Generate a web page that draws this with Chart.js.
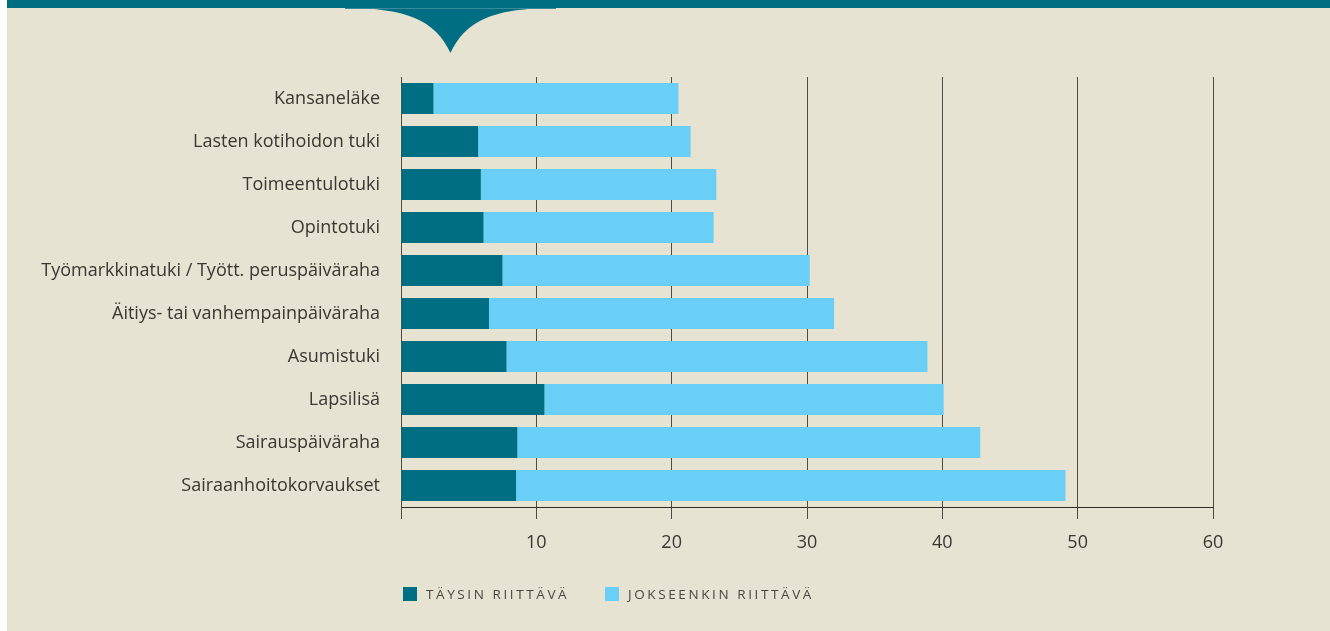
<!DOCTYPE html>
<html>
<head>
<meta charset="utf-8">
<script src="https://cdn.jsdelivr.net/npm/chart.js@4"></script>
<style>
  html, body { margin: 0; padding: 0; background: #fff; }
  #wrap {
    position: absolute; left: 7px; top: 0; width: 1323px; height: 631px;
    background: #e6e3d2; overflow: hidden;
  }
  #band { position: absolute; left: 0; top: 0; width: 1323px; height: 60px; }
  #holder { position: absolute; left: -7px; top: 0; width: 1330px; height: 631px; }
  #legend {
    position: absolute; top: 586px; left: 396px;
    font-family: "Open Sans", sans-serif; font-size: 13.5px; letter-spacing: 2.6px;
    color: #4a4642; white-space: nowrap;
  }
  #legend span.item { position: absolute; top: 0; }
  #legend i { position: absolute; top: 1px; width: 14px; height: 14px; }
  #legend b { position: absolute; top: -1px; font-weight: 400; }
</style>
</head>
<body>
<div id="wrap">
  <svg id="band" viewBox="0 0 1323 60">
    <rect x="0" y="0" width="1323" height="8" fill="#006e82"/>
    <path d="M 338 8 C 400 8, 428 20, 443.5 53 C 459 20, 487 8, 549 8 Z" fill="#006e82"/>
    <line x1="338" y1="8.5" x2="549" y2="8.5" stroke="#3c8a99" stroke-width="1"/>
  </svg>
  <div id="holder"><canvas id="chart"></canvas></div>
  <div id="legend"></div>
</div>
<script>
// Categories (top to bottom)
const categories = [
  'Kansaneläke',
  'Lasten kotihoidon tuki',
  'Toimeentulotuki',
  'Opintotuki',
  'Työmarkkinatuki / Tyött. peruspäiväraha',
  'Äitiys- tai vanhempainpäiväraha',
  'Asumistuki',
  'Lapsilisä',
  'Sairauspäiväraha',
  'Sairaanhoitokorvaukset'
];

// Täysin riittävä (%)
const taysin = [2.4, 5.7, 5.9, 6.1, 7.5, 6.5, 7.8, 10.6, 8.6, 8.5];
// Jokseenkin riittävä (%)
const jokseenkin = [18.1, 15.7, 17.4, 17.0, 22.7, 25.5, 31.1, 29.5, 34.2, 40.6];

const xTicks = [0, 10, 20, 30, 40, 50, 60];
const seriesNames = ['TÄYSIN RIITTÄVÄ', 'JOKSEENKIN RIITTÄVÄ'];
const seriesColors = ['#006e82', '#6acff6'];

const textColor = '#3a3632';
const gridColor = '#4f4a44';

const ctx = document.getElementById('chart').getContext('2d');
const chart = new Chart(ctx, {
  type: 'bar',
  data: {
    labels: categories,
    datasets: [
      {
        label: seriesNames[0],
        data: taysin,
        backgroundColor: seriesColors[0],
        barPercentage: 0.72,
        categoryPercentage: 1,
      },
      {
        label: seriesNames[1],
        data: jokseenkin,
        backgroundColor: seriesColors[1],
        barPercentage: 0.72,
        categoryPercentage: 1,
      },
    ],
  },
  options: {
    indexAxis: 'y',
    responsive: true,
    maintainAspectRatio: false,
    animation: false,
    layout: {
      padding: { top: 77, right: 117, left: 0, bottom: 0 },
    },
    plugins: {
      legend: { display: false },
      tooltip: { enabled: false },
    },
    scales: {
      x: {
        stacked: true,
        min: 0,
        max: 60,
        afterBuildTicks: (scale) => {
          scale.ticks = xTicks.map((v) => ({ value: v }));
        },
        afterFit: (scale) => {
          scale.height = 124;
        },
        grid: {
          color: gridColor,
          lineWidth: 1,
          tickLength: 12,
          drawTicks: true,
        },
        border: { display: true, color: '#2e2a26', width: 1 },
        ticks: {
          color: textColor,
          padding: 13,
          font: { family: 'Open Sans', size: 18 },
          callback: (v) => (v === 0 ? '' : v),
        },
      },
      y: {
        stacked: true,
        afterFit: (scale) => {
          scale.width = 401;
        },
        grid: { display: false, drawTicks: false },
        border: { display: true, color: gridColor, width: 1 },
        ticks: {
          color: textColor,
          padding: 21,
          font: { family: 'Open Sans', size: 18 },
        },
      },
    },
  },
});

// HTML legend with letter spacing
const legend = document.getElementById('legend');
const legendX = [0, 202];
seriesNames.forEach((name, i) => {
  const item = document.createElement('span');
  item.className = 'item';
  item.style.left = legendX[i] + 'px';
  item.innerHTML = '<i style="background:' + seriesColors[i] + ';left:0"></i><b style="left:23px">' + name + '</b>';
  legend.appendChild(item);
});
</script>
</body>
</html>
